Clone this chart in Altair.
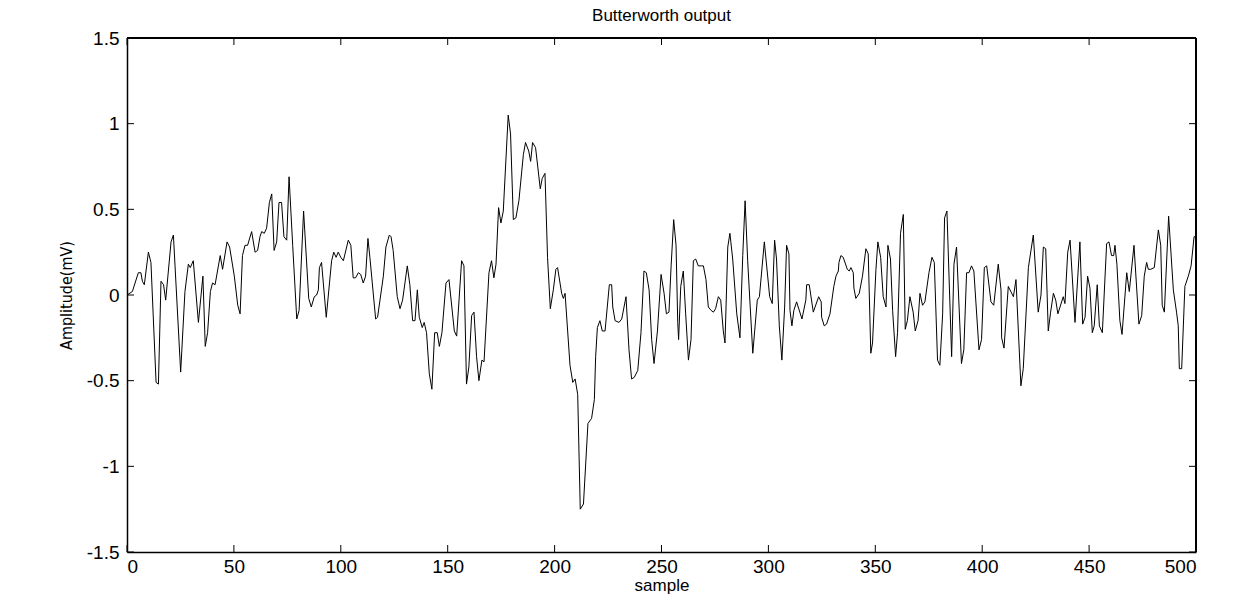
import altair as alt
import pandas as pd

# vertices (sample, amplitude)
samples = [
    0, 2.5, 5.3, 6.5, 7.2, 8.1, 10, 11.2, 13.6, 14.7, 15.9, 17.1, 18.1, 20.6, 21.7, 25.1,
    27.1, 28.7, 29.6, 31, 33.4, 35.5, 36.6, 37.7, 39, 40, 41.2, 43.6, 44.7, 46.8, 48,
    50.2, 51.8, 52.9, 54, 55.2, 56.4, 58.3, 59.9, 61.1, 62.2, 63, 64.2, 65.3, 66.6, 67.7,
    68.8, 70, 71.1, 72.3, 73.4, 74.7, 75.8, 77.5, 79.4, 80.5, 82.6, 85, 86.2, 87.6, 88.7,
    89.5, 90, 91, 93.2, 95.7, 96.7, 97.8, 98.8, 100, 101.2, 103.5, 104.7, 105.8, 106.9,
    108.2, 109.3, 110.5, 111.6, 112.7, 113.6, 116.3, 117.2, 119.9, 121.1, 122.7, 123.5,
    124.5, 126.4, 127.7, 128.9, 131.1, 132.3, 133.6, 134.7, 135.8, 136.7, 138.1, 139,
    140.1, 141.4, 142.6, 143.9, 145.1, 146.1, 147.3, 149.2, 150.6, 153.1, 154.2, 156.5,
    157.6, 158.8, 159.9, 161.2, 162.3, 163.5, 164.6, 166, 167, 169.3, 170.5, 171.6, 172.6,
    173.8, 174.9, 176, 178.3, 179.4, 180.7, 181.9, 183.3, 185.4, 186.4, 187.9, 188.8,
    189.7, 191.1, 193.3, 194.2, 195.5, 196.7, 198, 199.4, 200.6, 201.4, 203.3, 204.1,
    204.9, 207.2, 208.5, 209.6, 210.8, 212, 213.5, 215.6, 217.3, 218.6, 219.2, 220,
    221.2, 222.3, 223.6, 225.6, 226.7, 227.2, 228.3, 230.1, 231.4, 233.4, 234.8, 236,
    237.3, 238.9, 240.4, 241.8, 242.9, 244.2, 245.4, 246.5, 248.1, 249.8, 251.2, 252.3,
    253.5, 254.5, 255.7, 256.8, 257.6, 258, 259, 260.2, 261.3, 262.6, 263.8, 264.9, 266,
    267.2, 268.8, 269.6, 270.8, 271.9, 273.2, 274.3, 275.3, 276.6, 277.7, 278.9, 279.7,
    281, 282, 283.3, 285.2, 286.7, 288, 289.1, 290.3, 292.7, 294.8, 295.8, 298.1, 300.6,
    301.8, 302.9, 303.8, 305.1, 306.3, 307.6, 308.5, 309.6, 310.1, 311, 311.9, 313.2,
    315.7, 317.5, 317.9, 319.1, 321, 323.5, 324.7, 324.9, 326.1, 327.2, 328.8, 330.6,
    331.6, 332.7, 333, 333.9, 335, 336.9, 337.8, 338.6, 339.7, 340, 340.9, 342.5, 344,
    345.6, 346.7, 347.9, 348.7, 350.3, 351.2, 352.5, 353.7, 355, 355.9, 357.1, 358.1,
    359.5, 360.4, 361.8, 363.1, 364, 365, 366.2, 367.7, 368.7, 370, 370.9, 372.1, 373.2,
    375.1, 376.5, 377.6, 379.1, 380.2, 381.5, 382.4, 383.5, 385.7, 386.8, 388, 390.3,
    391.4, 392.7, 393.8, 395, 396.1, 398.5, 399.7, 401, 402.1, 404.1, 405.4, 407.5, 408.8,
    409.1, 410.2, 412.2, 414.6, 415.8, 418.1, 419.2, 421.6, 423.9, 426.2, 427.5, 428.6,
    429.7, 430.9, 432, 433.3, 434.4, 435.4, 437.9, 438.7, 440, 441.1, 443.4, 445.7, 447,
    448.1, 449.3, 450.4, 451.5, 452.4, 453.8, 454.8, 456.2, 458.2, 459.3, 460.5, 461.5,
    462.1, 463, 464.4, 465.4, 467.6, 468.8, 471, 473.3, 474.6, 475.8, 476.9, 477.7, 478.8,
    480.5, 482.4, 483.5, 484.2, 485.2, 487.2, 489.4, 490.9, 491.7, 492.2, 493.3, 494.8,
    496.4, 497.7, 499.1, 499.8,
]
amplitude = [
    0.0, 0.02, 0.13, 0.13, 0.08, 0.06, 0.25, 0.19, -0.51, -0.52, 0.08, 0.06, -0.03, 0.31,
    0.35, -0.45, 0.02, 0.18, 0.16, 0.20, -0.16, 0.11, -0.30, -0.22, 0.02, 0.07, 0.06, 0.23,
    0.15, 0.31, 0.28, 0.11, -0.06, -0.11, 0.23, 0.29, 0.29, 0.37, 0.25, 0.26, 0.34, 0.37,
    0.36, 0.39, 0.54, 0.59, 0.26, 0.31, 0.54, 0.54, 0.34, 0.32, 0.69, 0.29, -0.14, -0.09,
    0.49, -0.02, -0.07, -0.01, 0.0, 0.03, 0.16, 0.19, -0.13, 0.20, 0.25, 0.22, 0.25, 0.22,
    0.20, 0.32, 0.29, 0.10, 0.10, 0.13, 0.12, 0.07, 0.11, 0.33, 0.22, -0.14, -0.13, 0.11,
    0.28, 0.35, 0.34, 0.26, -0.01, -0.08, -0.03, 0.17, 0.06, -0.15, -0.15, 0.03, -0.13,
    -0.19, -0.16, -0.22, -0.46, -0.55, -0.22, -0.22, -0.30, -0.22, 0.07, 0.09, -0.21,
    -0.24, 0.20, 0.17, -0.52, -0.42, -0.12, -0.10, -0.36, -0.50, -0.38, -0.39, 0.13, 0.20,
    0.10, 0.18, 0.51, 0.42, 0.49, 1.05, 0.94, 0.44, 0.45, 0.55, 0.82, 0.89, 0.84, 0.78,
    0.89, 0.86, 0.62, 0.68, 0.71, 0.22, -0.08, 0.03, 0.15, 0.16, 0.01, -0.02, 0.01, -0.41,
    -0.51, -0.49, -0.58, -1.25, -1.22, -0.75, -0.72, -0.61, -0.36, -0.19, -0.15, -0.21,
    -0.21, 0.06, 0.06, -0.07, -0.15, -0.16, -0.14, -0.01, -0.32, -0.49, -0.48, -0.44,
    -0.22, 0.14, 0.13, 0.03, -0.26, -0.40, -0.21, 0.12, 0.01, -0.11, -0.10, 0.17, 0.44,
    0.29, -0.16, -0.26, 0.05, 0.14, -0.11, -0.38, -0.26, 0.20, 0.21, 0.17, 0.17, 0.17,
    0.09, -0.07, -0.09, -0.10, -0.08, -0.01, -0.03, -0.21, -0.28, 0.28, 0.36, 0.21, -0.11,
    -0.25, 0.23, 0.55, 0.20, -0.34, -0.03, -0.01, 0.31, -0.01, -0.05, 0.32, 0.21, -0.18,
    -0.38, -0.07, 0.29, 0.24, -0.09, -0.18, -0.09, -0.04, -0.14, -0.03, 0.06, 0.06, -0.10,
    -0.01, -0.04, -0.13, -0.18, -0.17, -0.11, 0.05, 0.11, 0.14, 0.19, 0.23, 0.22, 0.15,
    0.14, 0.16, 0.13, 0.04, -0.02, 0.01, 0.11, 0.27, 0.24, -0.34, -0.28, 0.15, 0.31, 0.22,
    -0.01, -0.07, 0.29, 0.21, -0.09, -0.36, -0.22, 0.36, 0.47, -0.20, -0.15, -0.01, -0.10,
    -0.21, -0.15, 0.01, -0.06, -0.04, 0.13, 0.22, 0.19, -0.38, -0.41, -0.11, 0.45, 0.49,
    -0.36, 0.18, 0.28, -0.40, -0.32, 0.13, 0.13, 0.17, 0.14, -0.32, -0.26, 0.16, 0.17,
    -0.04, -0.06, 0.18, 0.03, -0.25, -0.31, 0.05, -0.01, 0.09, -0.53, -0.43, 0.16, 0.35,
    -0.10, 0.0, 0.28, 0.27, -0.21, -0.10, 0.01, -0.03, -0.11, -0.01, -0.05, 0.25, 0.32,
    -0.16, 0.31, -0.17, -0.13, 0.11, 0.04, -0.22, -0.18, 0.06, -0.18, -0.22, 0.30, 0.31,
    0.23, 0.23, 0.29, 0.18, -0.15, -0.23, 0.13, 0.02, 0.29, -0.17, -0.12, 0.11, 0.19, 0.15,
    0.15, 0.16, 0.38, 0.29, -0.06, -0.10, 0.46, 0.03, -0.10, -0.18, -0.43, -0.43, 0.05,
    0.11, 0.17, 0.34, 0.34,
]
x_ticks = [0, 50, 100, 150, 200, 250, 300, 350, 400, 450, 500]
y_ticks = [-1.5, -1, -0.5, 0, 0.5, 1, 1.5]

W, H = 1069, 514
FONT = "Liberation Sans"

df = pd.DataFrame({"sample": samples, "amp": amplitude})
xt = pd.DataFrame({"t": x_ticks})
yt = pd.DataFrame({"t": y_ticks})

xscale = alt.Scale(domain=[0, 500], nice=False)
yscale = alt.Scale(domain=[-1.5, 1.5], nice=False)

line = alt.Chart(df).mark_line(color="black", strokeWidth=1).encode(
    x=alt.X(
        "sample:Q", scale=xscale, title="sample",
        axis=alt.Axis(values=x_ticks, grid=False, tickSize=0, domainColor="black",
                      domainWidth=1.5, labelExpr="toString(datum.value)",
                      labelFont=FONT, labelFontSize=19, labelPadding=5, labelColor="black",
                      titleFont=FONT, titleFontSize=17, titleFontWeight="normal",
                      titleColor="black", titlePadding=1),
    ),
    y=alt.Y(
        "amp:Q", scale=yscale, title="Amplitude(mV)",
        axis=alt.Axis(values=y_ticks, grid=False, tickSize=0, domainColor="black",
                      domainWidth=1.5, labelExpr="toString(datum.value)",
                      labelFont=FONT, labelFontSize=19, labelPadding=8, labelColor="black",
                      titleFont="DejaVu Sans Condensed", titleFontSize=16,
                      titleFontWeight="normal", titleColor="black", titlePadding=12),
    ),
)

tick_bottom = alt.Chart(xt).mark_rule(color="black").encode(
    x=alt.X("t:Q", scale=xscale), y=alt.value(H), y2=alt.value(H - 7))
tick_top = alt.Chart(xt).mark_rule(color="black").encode(
    x=alt.X("t:Q", scale=xscale), y=alt.value(0), y2=alt.value(7))
tick_left = alt.Chart(yt).mark_rule(color="black").encode(
    y=alt.Y("t:Q", scale=yscale), x=alt.value(0), x2=alt.value(7))
tick_right = alt.Chart(yt).mark_rule(color="black").encode(
    y=alt.Y("t:Q", scale=yscale), x=alt.value(W), x2=alt.value(W - 7))
frame_top = alt.Chart(xt).mark_rule(color="black", strokeWidth=1.5).encode(
    x=alt.value(0), x2=alt.value(W), y=alt.value(0))
frame_right = alt.Chart(xt).mark_rule(color="black", strokeWidth=1.5).encode(
    x=alt.value(W), y=alt.value(0), y2=alt.value(H))

chart = (
    alt.layer(line, tick_bottom, tick_top, tick_left, tick_right, frame_top, frame_right)
    .properties(
        width=W, height=H,
        title=alt.TitleParams("Butterworth output", font=FONT, fontSize=17,
                              fontWeight="normal", color="black", offset=4),
        autosize=alt.AutoSizeParams(type="none"),
        padding={"left": 119, "top": 30, "right": 30, "bottom": 50},
    )
    .configure_view(stroke=None)
    .configure(background="white")
)

chart.save("out.html", embed_options={"renderer": "svg", "actions": False})
